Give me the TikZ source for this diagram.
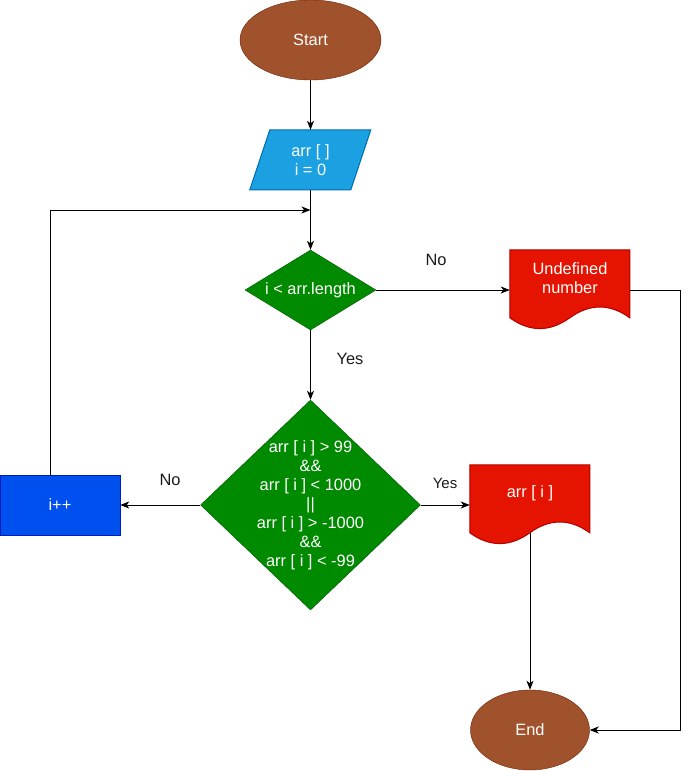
\documentclass[tikz,border=0pt]{standalone}
\usepackage{fontspec}
\setmainfont{Liberation Sans}
\usetikzlibrary{shapes.geometric,arrows.meta}

\definecolor{brownfill}{HTML}{A0522D}
\definecolor{brownline}{HTML}{6D1F00}
\definecolor{cyanfill}{HTML}{1BA1E2}
\definecolor{cyanline}{HTML}{006EAF}
\definecolor{greenfill}{HTML}{008A00}
\definecolor{greenline}{HTML}{005700}
\definecolor{redfill}{HTML}{E51400}
\definecolor{redline}{HTML}{B20000}
\definecolor{bluefill}{HTML}{0050EF}
\definecolor{blueline}{HTML}{001DBC}
\definecolor{labelgray}{HTML}{1A1A1A}

\tikzset{
  every node/.style={font=\fontsize{16.4}{19}\selectfont},
  terminal/.style={ellipse, draw=brownline, fill=brownfill, text=white,
    inner sep=0pt, minimum width=#1, minimum height=80pt},
  holder/.style={rectangle, draw=none, inner sep=0pt},
  decision/.style={diamond, draw=greenline, fill=greenfill, inner sep=0pt},
  process/.style={rectangle, draw=blueline, fill=bluefill, text=white,
    inner sep=0pt, minimum width=120pt, minimum height=60pt},
  inputshape/.style={draw=cyanline, fill=cyanfill},
  docshape/.style={draw=redline, fill=redfill},
  wtext/.style={text=white, align=center, inner sep=0pt},
  answer/.style={text=labelgray, inner sep=0pt},
  flow/.style={draw=black, line width=1pt,
    -{Stealth[length=9pt,width=7pt,inset=2.5pt]}},
}

% document symbol (120 x 80) with a wavy lower edge, anchored at a holder node
\newcommand\docoutline[1]{%
  \path[docshape, line width=1pt, shift={(#1.north west)}]
    (0,0) -- (120,0) -- (120,68)
    .. controls (100,53.6) and (80,53.6) .. (60,68)
    .. controls (40,82.4) and (20,82.4) .. (0,68) -- cycle;}

\begin{document}
\begin{tikzpicture}[x=1pt, y=-1pt]
  \useasboundingbox (0,0) rectangle (689,771);

  % terminals
  \node[terminal=141pt] (start) at (310.5,40) {Start};
  \node[terminal=119pt] (finish) at (530,730) {End};

  % input: arr [ ], i = 0
  \node[holder, minimum width=121pt, minimum height=60pt] (init) at (310.5,160) {};
  \path[inputshape, line width=1pt, shift={(init.north west)}]
    (20,0) -- (121,0) -- (101,60) -- (0,60) -- cycle;
  \node[wtext] (inittext) at (init.center) {arr [ ]\\i = 0};

  % loop condition
  \node[decision, minimum width=131pt, minimum height=80pt] (cond) at (310.5,290) {};
  \node[wtext] (condtext) at (cond.center) {i < arr.length};

  % range check
  \node[decision, minimum width=220pt, minimum height=210pt] (check) at (310.5,505) {};
  \node[wtext] (checktext) at (check.center)
    {arr [ i ] > 99\\\&\&\\arr [ i ] < 1000\\||\\arr [ i ] > -1000\\\&\&\\arr [ i ] < -99};

  % counter step
  \node[process] (ipp) at (60,505) {i++};

  % outputs
  \node[holder, minimum width=120pt, minimum height=80pt] (undef) at (570,290) {};
  \docoutline{undef}
  \node[wtext] (undeftext) at ([yshift=12pt]undef.center) {Undefined\\number};

  \node[holder, minimum width=120pt, minimum height=80pt] (outval) at (530,505) {};
  \docoutline{outval}
  \node[wtext] (outvaltext) at ([yshift=12pt]outval.center) {arr [ i ]};

  % connectors
  \coordinate (loopbend) at (50,210);
  \coordinate (rightbend) at (680,290);

  \draw[flow] (start) -- (init.north);
  \draw[flow] (init.south) -- (cond.north);
  \draw[flow] (ipp.north -| loopbend) -- (loopbend) -- (loopbend -| init.south);
  \draw[flow] (cond.east) -- (undef.west);
  \draw[flow] (cond.south) -- (check.north);
  \draw[flow] (check.west) -- (ipp.east);
  \draw[flow] (check.east) -- (outval.west);
  \draw[flow] ([yshift=-28pt]outval.center) -- (finish.north);
  \draw[flow] (undef.east) -- (rightbend) -- (rightbend |- finish.east) -- (finish.east);

  % branch labels
  \node[answer] (condno) at (436,260) {No};
  \node[answer] (condyes) at (350,359) {Yes};
  \node[answer] (checkno) at (170,480) {No};
  \node[answer, font=\fontsize{15}{18}\selectfont] (checkyes) at (445,483) {Yes};
\end{tikzpicture}
\end{document}
